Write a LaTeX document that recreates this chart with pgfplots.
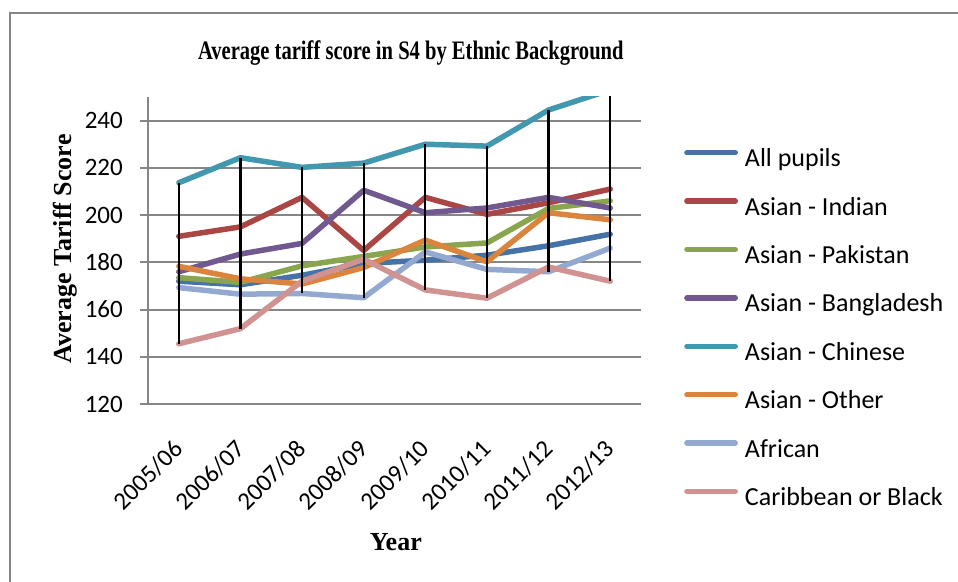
\documentclass[border=0pt]{standalone}
\usepackage{fontspec}
\usepackage{pgfplots}
\pgfplotsset{compat=1.18}
\setmainfont{Carlito}
\newfontfamily\tnr{Liberation Serif}
\newfontfamily\tnrtitle[FakeStretch=0.77]{Liberation Serif}

\definecolor{gridgray}{RGB}{134,134,134}
\definecolor{cAll}{RGB}{69,114,167}
\definecolor{cIndian}{RGB}{170,70,67}
\definecolor{cPakistan}{RGB}{137,165,78}
\definecolor{cBangladesh}{RGB}{113,88,143}
\definecolor{cChinese}{RGB}{65,152,175}
\definecolor{cOther}{RGB}{219,132,61}
\definecolor{cAfrican}{RGB}{147,169,207}
\definecolor{cCaribbean}{RGB}{209,147,146}

\newcommand\tickfont{\fontsize{25}{30}\selectfont}

\begin{document}
\begin{tikzpicture}[x=1pt,y=1pt]
\useasboundingbox (0,0) rectangle (958,581);
% chart frame
\draw[gridgray, line width=1.5pt] (10,-2) -- (10,568) -- (960,568);
% titles
\node[font=\tnrtitle\bfseries\fontsize{26.7}{30}\selectfont, anchor=base] at (410.8,521.7)
  {Average tariff score in S4 by Ethnic Background};
\node[font=\tnr\bfseries\fontsize{26}{30}\selectfont, anchor=base] at (395.8,31) {Year};
\node[font=\tnr\bfseries\fontsize{26}{30}\selectfont, rotate=90, anchor=base] at (71,332)
  {Average Tariff Score};

\begin{axis}[
  at={(148pt,177pt)}, anchor=south west,
  scale only axis, width=493pt, height=307pt,
  xmin=-0.5, xmax=7.5, ymin=120, ymax=250,
  xtick={0,...,7},
  xticklabels={2005/06,2006/07,2007/08,2008/09,2009/10,2010/11,2011/12,2012/13},
  ytick={120,140,...,240},
  axis lines*=left,
  axis line style={gridgray, line width=2pt},
  ymajorgrids, grid style={gridgray, line width=2pt},
  xtick style={draw=none},
  ytick style={gridgray, line width=2pt},
  tick align=outside, major tick length=8pt,
  /pgf/number format/assume math mode=true,
  every tick label/.append style={font=\tickfont},
  yticklabel style={anchor=east, inner sep=0pt, font=\tickfont},
  yticklabel shift=17pt,
  xticklabel style={rotate=45, anchor=east, inner sep=0pt, font=\tickfont},
  xticklabel shift=33pt,
  legend style={at={(1.0876,0.8316)}, anchor=north west, draw=none, fill=none,
    inner sep=0pt, outer sep=0pt, row sep=24.4pt, column sep=7pt,
    font=\fontsize{26}{30}\selectfont,
    nodes={inner sep=0pt, text height=18pt, text depth=6pt}},
  legend cell align=left,
  legend image code/.code={\draw[line width=5.5pt, line cap=round] (0pt,8pt) -- (48.3pt,8pt);},
  every axis plot/.append style={line width=5.5pt, line cap=round, line join=round},
]
\addplot[cAll] coordinates {(0,172) (1,170.5) (2,174.5) (3,179.5) (4,180.9) (5,183) (6,187) (7,191.9)};
\addlegendentry{All pupils}
\addplot[cIndian] coordinates {(0,191) (1,195) (2,207.5) (3,185) (4,207.5) (5,200.3) (6,205.2) (7,211)};
\addlegendentry{Asian - Indian}
\addplot[cPakistan] coordinates {(0,173.5) (1,171.5) (2,178.5) (3,182.5) (4,186.5) (5,188.2) (6,202.8) (7,206)};
\addlegendentry{Asian - Pakistan}
\addplot[cBangladesh] coordinates {(0,176) (1,183.5) (2,188) (3,210.5) (4,201) (5,203) (6,207.5) (7,203)};
\addlegendentry{Asian - Bangladesh}
\addplot[cChinese] coordinates {(0,213.7) (1,224.3) (2,220.2) (3,222) (4,230) (5,229.2) (6,244.5) (7,253)};
\addlegendentry{Asian - Chinese}
\addplot[cOther] coordinates {(0,178.3) (1,173) (2,170.8) (3,177.8) (4,189.4) (5,180.2) (6,201) (7,198)};
\addlegendentry{Asian - Other}
\addplot[cAfrican] coordinates {(0,169.3) (1,166.5) (2,166.8) (3,165) (4,184.4) (5,177) (6,176) (7,186)};
\addlegendentry{African}
\addplot[cCaribbean] coordinates {(0,145.5) (1,151.9) (2,172) (3,181.3) (4,168.3) (5,164.8) (6,178) (7,172)};
\addlegendentry{Caribbean or Black}
% high-low lines: lowest to highest value in each year
\addplot[black, line width=2.3pt, line cap=butt, forget plot, unbounded coords=jump] coordinates {
  (0,145.5) (0,213.7) (0,nan)
  (1,151.9) (1,224.3) (1,nan)
  (2,166.8) (2,220.2) (2,nan)
  (3,165) (3,222) (3,nan)
  (4,168.3) (4,230) (4,nan)
  (5,164.8) (5,229.2) (5,nan)
  (6,176) (6,244.5) (6,nan)
  (7,172) (7,253)
};
\end{axis}
\end{tikzpicture}
\end{document}
